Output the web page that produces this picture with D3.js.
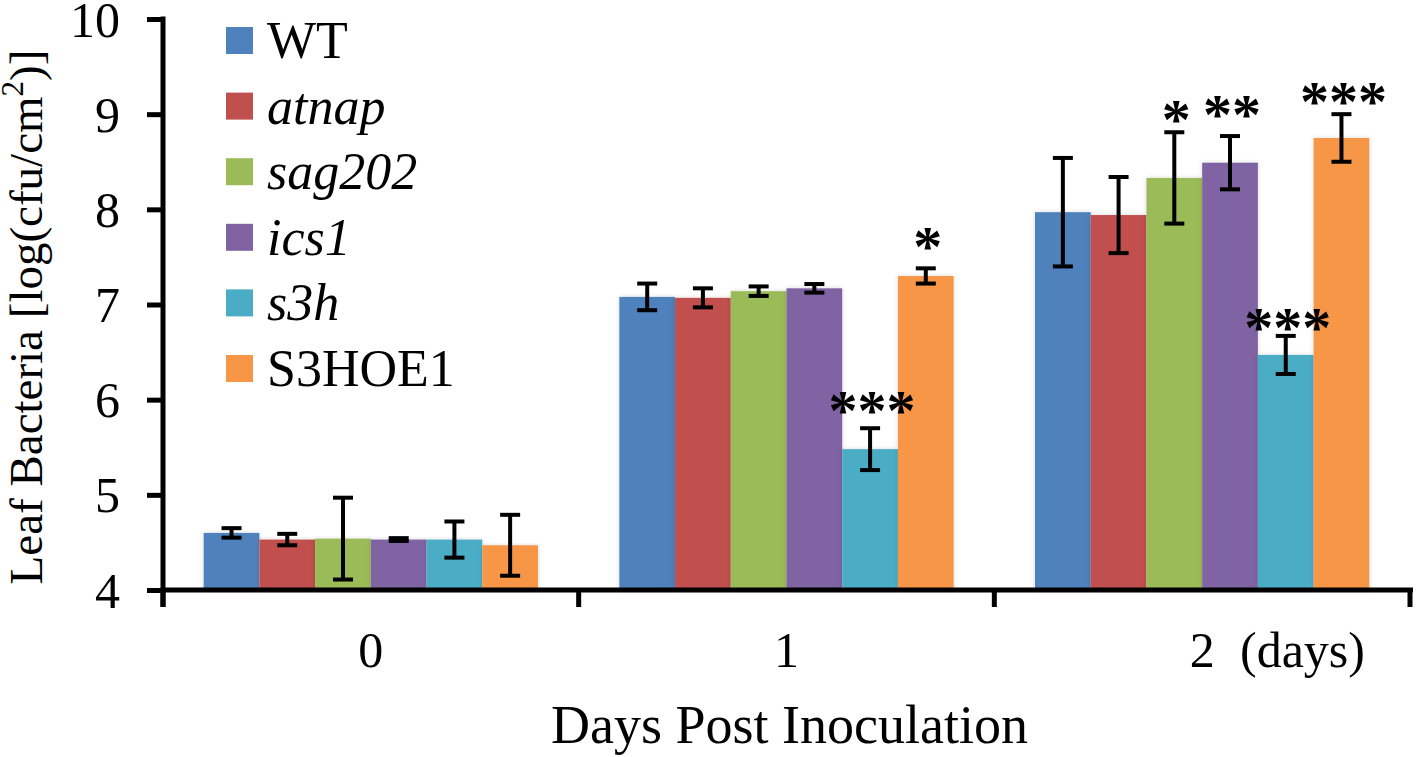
<!DOCTYPE html>
<html>
<head>
<meta charset="utf-8">
<script src="https://cdn.jsdelivr.net/npm/d3@7"></script>
<style>
  html, body { margin: 0; padding: 0; background: #fff; }
  svg { display: block; }
  svg text { font-family: "Liberation Serif", "Times New Roman", serif; fill: #000; }
</style>
</head>
<body>
<svg id="chart" width="1418" height="757"></svg>
<script>
// ---------- data ----------
const days = ["0", "1", "2"];
const seriesNames = ["WT", "atnap", "sag202", "ics1", "s3h", "S3HOE1"];
const seriesItalic = [false, true, true, true, true, false];
const seriesColors = ["#4F81BD", "#C0504D", "#9BBB59", "#8064A2", "#4BACC6", "#F79646"];
// mean values per series, one per day (0,1,2)
const valWT     = [4.60, 7.08, 7.97];
const valAtnap  = [4.53, 7.07, 7.94];
const valSag202 = [4.54, 7.14, 8.33];
const valIcs1   = [4.53, 7.17, 8.49];
const valS3h    = [4.53, 5.48, 6.47];
const valS3HOE1 = [4.47, 7.30, 8.75];
// error (± SD)
const errWT     = [0.05, 0.14, 0.57];
const errAtnap  = [0.06, 0.10, 0.40];
const errSag202 = [0.43, 0.05, 0.48];
const errIcs1   = [0.015, 0.045, 0.28];
const errS3h    = [0.19, 0.22, 0.20];
const errS3HOE1 = [0.32, 0.08, 0.25];
// significance marks: day, series, text, level (data units)
const sigDay    = ["1", "1", "2", "2", "2", "2"];
const sigSeries = ["s3h", "S3HOE1", "sag202", "ics1", "s3h", "S3HOE1"];
const sigText   = ["***", "*", "*", "**", "***", "***"];
const sigLevel  = [5.96, 7.69, 9.02, 9.08, 6.84, 9.21];
const yTicks = [4, 5, 6, 7, 8, 9, 10];
const xTitle = "Days Post Inoculation";
const yTitle = "Leaf Bacteria [log(cfu/cm";
const xUnit = "(days)";

// ---------- assemble ----------
const allVals = [valWT, valAtnap, valSag202, valIcs1, valS3h, valS3HOE1];
const allErrs = [errWT, errAtnap, errSag202, errIcs1, errS3h, errS3HOE1];
const rows = [];
days.forEach((d, di) => seriesNames.forEach((s, si) => {
  rows.push({ day: d, series: s, value: allVals[si][di], err: allErrs[si][di], color: seriesColors[si] });
}));

// ---------- layout ----------
const svg = d3.select("#chart");
const x0 = d3.scaleBand().domain(days).range([163, 1410]).paddingInner(0).paddingOuter(0);
const x1 = d3.scaleBand().domain(seriesNames).range([0, x0.bandwidth()]).paddingInner(0).paddingOuter(0.73);
const y = d3.scaleLinear().domain([4, 10]).range([590, 19]);

const defs = svg.append("defs");
const f = defs.append("filter").attr("id", "shadow").attr("x", "-20%").attr("y", "-5%").attr("width", "140%").attr("height", "110%");
f.append("feGaussianBlur").attr("in", "SourceAlpha").attr("stdDeviation", 2.5).attr("result", "b");
f.append("feComponentTransfer").attr("in", "b").attr("result", "c")
  .append("feFuncA").attr("type", "linear").attr("slope", 0.15);
const m = f.append("feMerge");
m.append("feMergeNode").attr("in", "c");
m.append("feMergeNode").attr("in", "SourceGraphic");

// bars
svg.append("g").selectAll("rect").data(rows).join("rect")
  .attr("x", d => x0(d.day) + x1(d.series))
  .attr("y", d => y(d.value))
  .attr("width", x1.bandwidth())
  .attr("height", d => y(4) - y(d.value))
  .attr("fill", d => d.color)
  .attr("filter", "url(#shadow)");

// error bars
const eg = svg.append("g").attr("stroke", "#000").attr("stroke-width", 4);
rows.forEach(d => {
  const cx = x0(d.day) + x1(d.series) + x1.bandwidth() / 2;
  const yt = y(d.value + d.err), yb = y(d.value - d.err);
  eg.append("line").attr("x1", cx).attr("x2", cx).attr("y1", yt).attr("y2", yb);
  eg.append("line").attr("x1", cx - 10).attr("x2", cx + 10).attr("y1", yt).attr("y2", yt);
  eg.append("line").attr("x1", cx - 10).attr("x2", cx + 10).attr("y1", yb).attr("y2", yb);
});

// significance stars
svg.append("g").selectAll("text").data(sigText).join("text")
  .attr("x", (t, i) => x0(sigDay[i]) + x1(sigSeries[i]) + x1.bandwidth() / 2 + 2)
  .attr("y", (t, i) => y(sigLevel[i]) + 27)
  .attr("text-anchor", "middle")
  .attr("font-size", 58)
  .attr("font-weight", "bold")
  .attr("letter-spacing", 0)
  .text(t => t);

// y axis
const yAxis = svg.append("g").attr("transform", "translate(163,0)")
  .call(d3.axisLeft(y).tickValues(yTicks).tickFormat(d3.format("d")).tickSize(16).tickPadding(27).tickSizeOuter(0));
yAxis.select(".domain").remove();
yAxis.selectAll(".tick line").attr("stroke", "#000").attr("stroke-width", 5);
yAxis.selectAll(".tick text").attr("font-size", 50).attr("font-family", "Liberation Serif").attr("fill", "#000").attr("dy", "0.34em");
svg.append("line").attr("x1", 163).attr("x2", 163).attr("y1", y(10) - 2.5).attr("y2", 607)
  .attr("stroke", "#000").attr("stroke-width", 5);

// x axis
svg.append("line").attr("x1", 160.5).attr("x2", 1413).attr("y1", y(4)).attr("y2", y(4))
  .attr("stroke", "#000").attr("stroke-width", 5);
const boundaries = days.map(d => x0(d)).concat([x0(days[days.length - 1]) + x0.bandwidth()]);
svg.append("g").selectAll("line").data(boundaries).join("line")
  .attr("x1", d => d).attr("x2", d => d).attr("y1", y(4)).attr("y2", 607)
  .attr("stroke", "#000").attr("stroke-width", 5);
svg.append("g").selectAll("text").data(days).join("text")
  .attr("x", d => x0(d) + x0.bandwidth() / 2)
  .attr("y", 667)
  .attr("text-anchor", "middle")
  .attr("font-size", 50)
  .text(d => d);
svg.append("text").attr("x", 1240).attr("y", 667).attr("font-size", 50).text(xUnit);

// axis titles
svg.append("text").attr("x", (552 + 1027) / 2).attr("y", 743).attr("text-anchor", "middle")
  .attr("font-size", 54).text(xTitle);
const yt = svg.append("text").attr("transform", "translate(42,317) rotate(-90)")
  .attr("text-anchor", "middle").attr("font-size", 47);
yt.append("tspan").text(yTitle);
yt.append("tspan").attr("font-size", 31).attr("dy", -19).text("2");
yt.append("tspan").attr("dy", 19).text(")]");

// legend
const lg = svg.append("g").selectAll("g").data(seriesNames).join("g")
  .attr("transform", (d, i) => `translate(226,${27 + i * 65.6})`);
lg.append("rect").attr("width", 27).attr("height", 27).attr("fill", (d, i) => seriesColors[i]);
lg.append("text").attr("x", 41).attr("y", 31).attr("font-size", 52)
  .attr("font-style", (d, i) => seriesItalic[i] ? "italic" : "normal")
  .text(d => d);
</script>
</body>
</html>
